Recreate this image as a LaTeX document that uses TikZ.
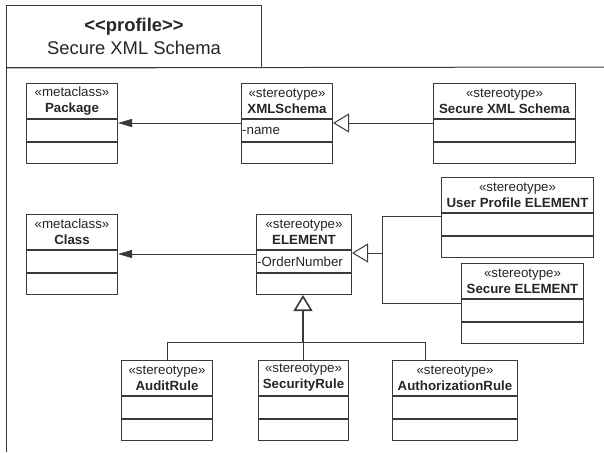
\documentclass[tikz,border=0pt]{standalone}
\usepackage{fontspec}
\setmainfont{Liberation Sans}
\usetikzlibrary{arrows.meta}

\definecolor{inkline}{HTML}{3A3A3A}
\definecolor{inktext}{HTML}{262626}

\tikzset{
  ink/.style={draw=inkline, line width=1pt},
  hdr/.style={ink, rectangle, anchor=north west, inner sep=0pt,
    minimum height=35pt, align=center, text=inktext,
    font=\fontsize{13.3}{16}\selectfont},
  attrbox/.style={ink, rectangle, anchor=north west, inner sep=0pt, minimum height=22pt},
  opsbox/.style={ink, rectangle, anchor=north west, inner sep=0pt, minimum height=21pt},
  attrtext/.style={anchor=west, inner sep=0pt, xshift=1pt, text=inktext,
    font=\fontsize{13.3}{16}\selectfont},
  assoc/.style={ink, -{Triangle[length=14pt,width=8pt]}},
  gen/.style={ink, -{Triangle[open,length=16pt,width=19pt,fill=white]}},
  wire/.style={ink},
}

% UML class box: name, x, y, width, stereotype, title, attribute
\newcommand\umlbox[7]{%
  \node[hdr, minimum width=#4pt] (#1) at (#2,#3) {«#5»\\\textbf{#6}};
  \node[attrbox, minimum width=#4pt] (#1-a) at (#1.south west) {};
  \node[opsbox, minimum width=#4pt] (#1-o) at (#1-a.south west) {};
  \node[attrtext] (#1-t) at (#1-a.west) {#7};
}

\begin{document}
\begin{tikzpicture}[x=1pt, y=-1pt]
\useasboundingbox[fill=white] (0,0) rectangle (604,452);

% profile package frame
\node[ink, rectangle, anchor=north west, inner sep=0pt,
      minimum width=255pt, minimum height=62pt, align=center, text=inktext,
      font=\fontsize{18.4}{23}\selectfont] (tab) at (6,5)
  {\textbf{<{}<profile>{}>}\\Secure XML Schema};
\coordinate (frameB) at (6,452);
\coordinate (frameR) at (604,67);
\draw[wire] (tab.south west) -- (frameB);
\draw[wire] (tab.south west) -- (frameR);

% classes
\umlbox{pkg}{26}{83}{91}{metaclass}{Package}{}
\umlbox{xsd}{241}{83}{91}{stereotype}{XMLSchema}{-name}
\umlbox{sxs}{433}{83}{142}{stereotype}{Secure XML Schema}{}
\umlbox{cls}{26}{214}{91}{metaclass}{Class}{}
\umlbox{elem}{256}{214}{95}{stereotype}{ELEMENT}{-OrderNumber}
\umlbox{upe}{441}{177}{152}{stereotype}{User Profile ELEMENT}{}
\umlbox{sel}{461}{263}{122}{stereotype}{Secure ELEMENT}{}
\umlbox{audit}{121}{360}{91}{stereotype}{AuditRule}{}
\umlbox{secr}{258}{360}{90}{stereotype}{SecurityRule}{}
\umlbox{authr}{392}{360}{125}{stereotype}{AuthorizationRule}{}

% extensions
\draw[assoc] ([yshift=-4pt]xsd-a.north west) -- ([yshift=-4pt]pkg-a.north east);
\draw[assoc] ([yshift=-4pt]elem-a.north west) -- ([yshift=-4pt]cls-a.north east);

% generalization: Secure XML Schema -> XMLSchema
\draw[gen] ([yshift=-4pt]sxs-a.north west) -- ([yshift=-4pt]xsd-a.north east);

% generalization: ELEMENT <- User Profile ELEMENT, Secure ELEMENT
\coordinate (rj) at (382,253);
\draw[gen] (rj) -- (elem-a.north east |- rj);
\draw[wire] (rj) |- ([yshift=-3pt]upe-a.north west);
\draw[wire] (rj) |- ([yshift=-4pt]sel-a.north west);

% generalization: ELEMENT <- rules
\coordinate (bj) at (303,342);
\coordinate (authtop) at (425,360);
\draw[gen, line width=1.6pt] (bj) -- (elem-o.south -| bj);
\draw[wire] (bj) -| (audit.north);
\draw[wire] (bj) -- (secr.north -| bj);
\draw[wire] (bj) -| (authtop);
\end{tikzpicture}
\end{document}
